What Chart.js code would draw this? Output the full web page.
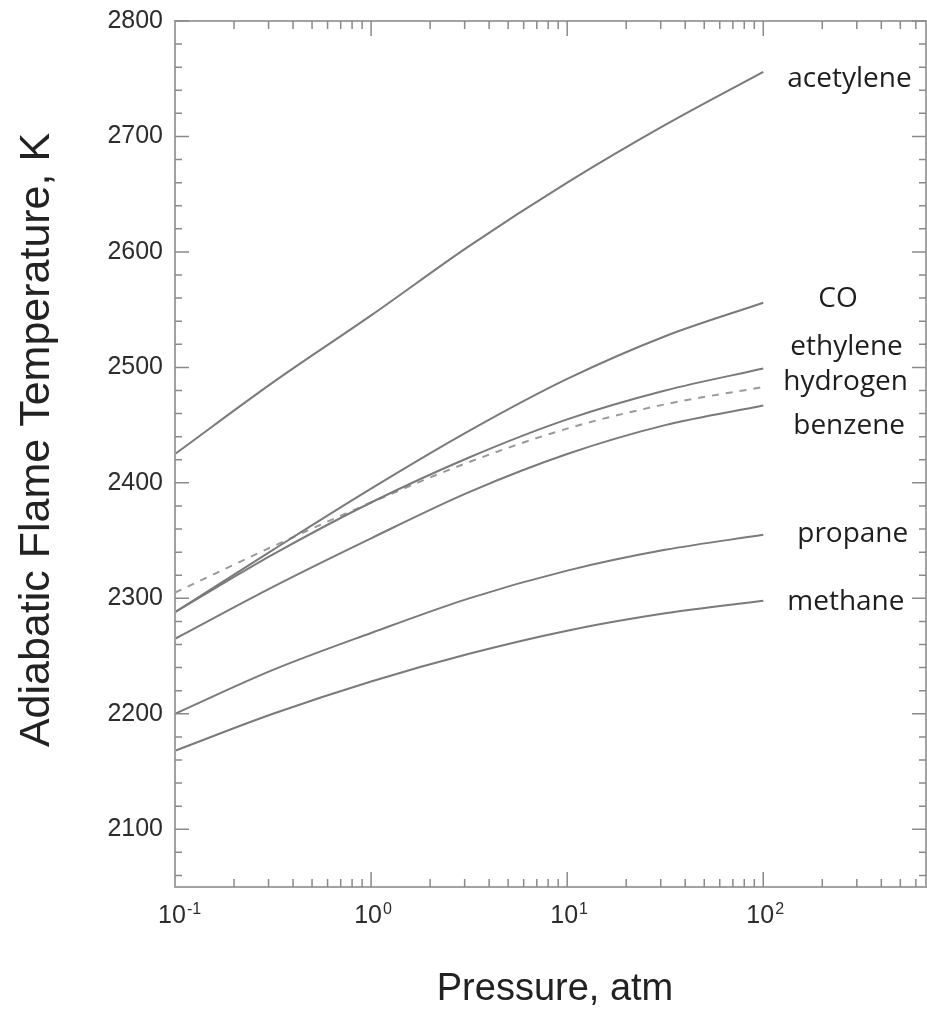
<!DOCTYPE html>
<html>
<head>
<meta charset="utf-8">
<script src="https://cdn.jsdelivr.net/npm/chart.js@4.4.1/dist/chart.umd.min.js"></script>
<style>
  html, body { margin: 0; padding: 0; background: #fff; }
</style>
</head>
<body>
<canvas id="flameChart" width="927" height="1011"></canvas>
<script>
// pressure in atm, half-decade steps
const pressures = [0.1, 0.316, 1, 3.16, 10, 31.6, 100];

// adiabatic flame temperature, K
const acetylene = [2425, 2487, 2545, 2605, 2660, 2710, 2756];
const co        = [2288, 2342, 2395, 2445, 2490, 2527, 2556];
const ethylene  = [2288, 2338, 2383, 2422, 2455, 2480, 2499];
const hydrogen  = [2305, 2345, 2383, 2418, 2447, 2468, 2483];
const benzene   = [2265, 2310, 2352, 2392, 2425, 2450, 2467];
const propane   = [2200, 2238, 2270, 2300, 2324, 2342, 2355];
const methane   = [2168, 2200, 2228, 2252, 2272, 2287, 2298];

const fuelNames = ['acetylene', 'CO', 'ethylene', 'hydrogen', 'benzene', 'propane', 'methane'];
const fuelSeries = [acetylene, co, ethylene, hydrogen, benzene, propane, methane];

const yTickValues = [2100, 2200, 2300, 2400, 2500, 2600, 2700, 2800];
const xTickExponents = [-1, 0, 1, 2];

const X_MIN = 0.1, X_MAX = 676;
const Y_MIN = 2050, Y_MAX = 2800;

// where each name sits relative to the end of its curve (px)
const labelOffset = {
  acetylene: [24, 15], CO: [55, 4], ethylene: [27, -14], hydrogen: [20, 3],
  benzene: [30, 28], propane: [34, 7], methane: [24, 9]
};

const datasets = fuelNames.map((name, i) => ({
  label: name,
  data: pressures.map((p, j) => ({ x: p, y: fuelSeries[i][j] })),
  borderColor: name === 'hydrogen' ? '#9a9a9a' : '#7a7a7a',
  borderWidth: 2,
  borderDash: name === 'hydrogen' ? [7, 7] : [],
  pointRadius: 0,
  cubicInterpolationMode: 'monotone',
  fill: false
}));

// frame, inward ticks on all four sides, tick labels, titles and curve names
const framePlugin = {
  id: 'frame',
  afterDraw(chart) {
    const { ctx, chartArea: a, scales } = chart;
    const xs = scales.x, ys = scales.y;
    ctx.save();

    ctx.strokeStyle = '#a2a2a2';
    ctx.lineWidth = 2;
    ctx.strokeRect(a.left, a.top, a.right - a.left, a.bottom - a.top);

    ctx.lineWidth = 1.5;
    ctx.strokeStyle = '#8a8a8a';
    ctx.beginPath();
    for (let v = 2060; v <= Y_MAX; v += 20) {
      const y = ys.getPixelForValue(v);
      const len = v % 100 === 0 ? 14 : 7;
      ctx.moveTo(a.left, y); ctx.lineTo(a.left + len, y);
      ctx.moveTo(a.right, y); ctx.lineTo(a.right - len, y);
    }
    for (let d = -1; d <= 2; d++) {
      for (let m = 1; m <= 9; m++) {
        const v = m * Math.pow(10, d);
        if (v > X_MAX || (d === -1 && m === 1)) continue;
        const x = xs.getPixelForValue(v);
        const len = m === 1 ? 15 : 8;
        ctx.moveTo(x, a.bottom); ctx.lineTo(x, a.bottom - len);
        ctx.moveTo(x, a.top); ctx.lineTo(x, a.top + len);
      }
    }
    ctx.stroke();

    // y tick labels
    ctx.fillStyle = '#2c2c2c';
    ctx.font = '25px "Liberation Sans"';
    ctx.textAlign = 'right';
    ctx.textBaseline = 'middle';
    yTickValues.forEach(v => ctx.fillText(String(v), a.left - 12, ys.getPixelForValue(v)));

    // x tick labels as 10 with a raised exponent
    ctx.textBaseline = 'alphabetic';
    xTickExponents.forEach(e => {
      const x = xs.getPixelForValue(Math.pow(10, e));
      ctx.font = '25px "Liberation Sans"';
      ctx.textAlign = 'center';
      ctx.fillText('10', x - 3, 923);
      const w = ctx.measureText('10').width;
      ctx.font = '16px "Liberation Sans"';
      ctx.textAlign = 'left';
      ctx.fillText(e < 0 ? '-' + (-e) : String(e), x - 2 + w / 2, 914);
    });

    // axis titles
    ctx.fillStyle = '#222';
    ctx.font = '38px "Liberation Sans"';
    ctx.textAlign = 'center';
    ctx.textBaseline = 'middle';
    ctx.fillText('Pressure, atm', 555, 990);
    ctx.save();
    ctx.translate(37, 440);
    ctx.rotate(-Math.PI / 2);
    ctx.font = '43px "Liberation Sans"';
    ctx.fillText('Adiabatic Flame Temperature, K', 0, 0);
    ctx.restore();

    // curve names beside the line ends
    ctx.fillStyle = '#1e1e1e';
    ctx.font = '28px "Open Sans"';
    ctx.textAlign = 'left';
    ctx.textBaseline = 'alphabetic';
    chart.data.datasets.forEach((ds, i) => {
      const pts = chart.getDatasetMeta(i).data;
      const end = pts[pts.length - 1];
      const [dx, dy] = labelOffset[ds.label];
      ctx.fillText(ds.label, end.x + dx, end.y + dy);
    });

    ctx.restore();
  }
};

new Chart(document.getElementById('flameChart'), {
  type: 'line',
  data: { datasets },
  options: {
    responsive: false,
    animation: false,
    layout: { padding: { top: 21, right: 1, left: 0, bottom: 0 } },
    plugins: { legend: { display: false }, tooltip: { enabled: false } },
    scales: {
      x: {
        type: 'logarithmic', min: X_MIN, max: X_MAX,
        ticks: { display: false },
        grid: { display: false, drawTicks: false },
        border: { display: false },
        afterFit: s => { s.height = 124; }
      },
      y: {
        type: 'linear', min: Y_MIN, max: Y_MAX,
        ticks: { display: false },
        grid: { display: false, drawTicks: false },
        border: { display: false },
        afterFit: s => { s.width = 175; }
      }
    }
  },
  plugins: [framePlugin]
});
</script>
</body>
</html>
